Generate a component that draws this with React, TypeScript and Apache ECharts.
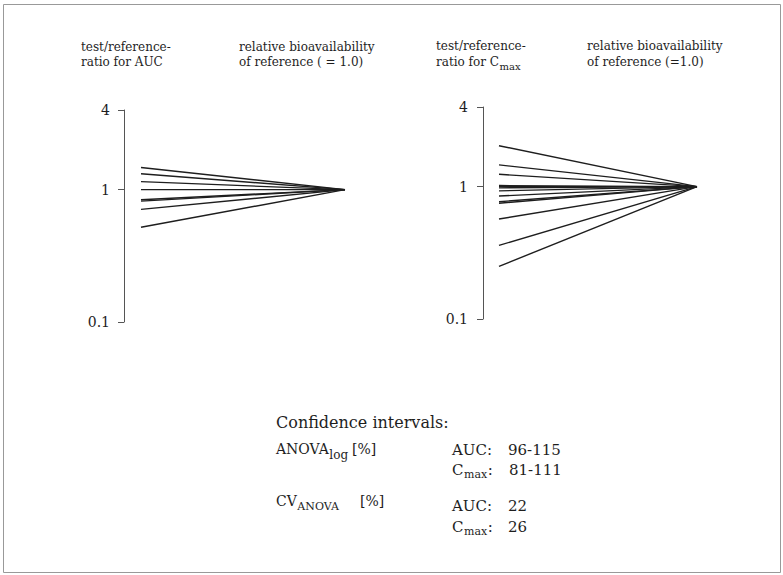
import React, { useEffect, useRef } from "react";
import * as echarts from "echarts";

const categories = ["test", "reference"];
const referenceValue = 1;
const aucRatios = [1.47, 1.32, 1.15, 1.0, 0.84, 0.82, 0.71, 0.52];
const cmaxRatios = [2.04, 1.46, 1.24, 1.02, 1.0, 0.98, 0.93, 0.85, 0.77, 0.75, 0.57, 0.36, 0.25];
const yMin = 0.1;
const yMax = 4;

const SERIF = '"DejaVu Serif", "Liberation Serif", serif';
const INK = "#1e1e1e";

let measureCtx: CanvasRenderingContext2D | null = null;
function textWidth(text: string, size: number) {
  if (!measureCtx) measureCtx = document.createElement("canvas").getContext("2d");
  if (!measureCtx) return text.length * size * 0.6;
  measureCtx.font = `${size}px ${SERIF}`;
  return measureCtx.measureText(text).width;
}

function txt(text: string, x: number, y: number, size: number) {
  return {
    type: "text",
    x,
    y,
    silent: true,
    style: {
      text,
      font: `${size}px ${SERIF}`,
      fill: INK,
      align: "left",
      verticalAlign: "middle",
      textAlign: "left",
      textVerticalAlign: "middle",
    },
  };
}

// base text followed by a subscript (and optional trailing text)
function withSub(
  base: string,
  sub: string,
  x: number,
  y: number,
  size: number,
  subSize: number,
  dy: number,
  tail?: string
) {
  const w = textWidth(base, size);
  const out: any[] = [txt(base, x, y, size), txt(sub, x + w + 0.5, y + dy, subSize)];
  if (tail) {
    const ws = textWidth(sub, subSize);
    out.push(txt(tail, x + w + ws + 1, y, size));
  }
  return out;
}

export default function App() {
  const ref = useRef<HTMLDivElement>(null);
  useEffect(() => {
    if (!ref.current) return;
    const chart = echarts.init(ref.current, undefined, { renderer: "svg" });

    const lineSeries = (values: number[], idx: number) =>
      values.map((v) => ({
        type: "line",
        xAxisIndex: idx,
        yAxisIndex: idx,
        data: [v, referenceValue],
        symbol: "none",
        silent: true,
        lineStyle: { color: INK, width: 1.4 },
      }));

    const yAxisBase = (idx: number, offset: number, margin: number) => ({
      type: "log",
      gridIndex: idx,
      min: yMin,
      max: yMax,
      logBase: 10,
      offset,
      axisLine: { show: true, lineStyle: { color: "#555", width: 1 } },
      axisTick: { show: true, inside: false, length: 6, lineStyle: { color: "#555", width: 1 } },
      axisLabel: {
        fontFamily: SERIF,
        fontSize: 14,
        color: INK,
        margin,
        formatter: (v: number) => String(v),
      },
      splitLine: { show: false },
      minorTick: { show: false },
    });

    chart.setOption({
      animation: false,
      backgroundColor: "#fff",
      grid: [
        { left: 141, top: 110, width: 204, height: 212 },
        { left: 499, top: 107, width: 198, height: 212 },
      ],
      xAxis: [0, 1].map((i) => ({
        type: "category",
        gridIndex: i,
        data: categories,
        boundaryGap: false,
        show: false,
      })),
      yAxis: [yAxisBase(0, 17, 14), yAxisBase(1, 16, 15)],
      series: [...lineSeries(aucRatios, 0), ...lineSeries(cmaxRatios, 1)],
      graphic: [
        {
          type: "rect",
          silent: true,
          shape: { x: 3.5, y: 4.5, width: 777, height: 568 },
          style: { fill: "none", stroke: "#999", lineWidth: 1 },
        },
        // left panel titles
        txt("test/reference-", 81, 47, 12),
        txt("ratio for AUC", 81, 62, 12),
        txt("relative bioavailability", 239, 47, 12),
        txt("of reference ( = 1.0)", 239, 62, 12),
        // right panel titles
        txt("test/reference-", 436, 46, 12),
        ...withSub("ratio for C", "max", 436, 62, 12, 10, 4),
        txt("relative bioavailability", 587, 46, 12),
        txt("of reference (=1.0)", 587, 62, 12),
        // confidence intervals block
        txt("Confidence intervals:", 276, 422, 16),
        ...withSub("ANOVA", "log", 276, 449, 14, 12, 6),
        txt("[%]", 352, 449, 14),
        txt("AUC:", 452, 450, 15),
        txt("96-115", 508, 450, 15),
        ...withSub("C", "max", 452, 470, 15, 11, 4, ":"),
        txt("81-111", 509, 470, 15),
        ...withSub("CV", "ANOVA", 276, 501, 14, 11, 5),
        txt("[%]", 360, 501, 14),
        txt("AUC:", 452, 506, 15),
        txt("22", 508, 506, 15),
        ...withSub("C", "max", 452, 527, 15, 11, 4, ":"),
        txt("26", 508, 527, 15),
      ],
    });
    return () => chart.dispose();
  }, []);

  return (
    <div
      ref={ref}
      style={{ position: "absolute", left: 0, top: 0, width: 783, height: 575, background: "#fff" }}
    />
  );
}
